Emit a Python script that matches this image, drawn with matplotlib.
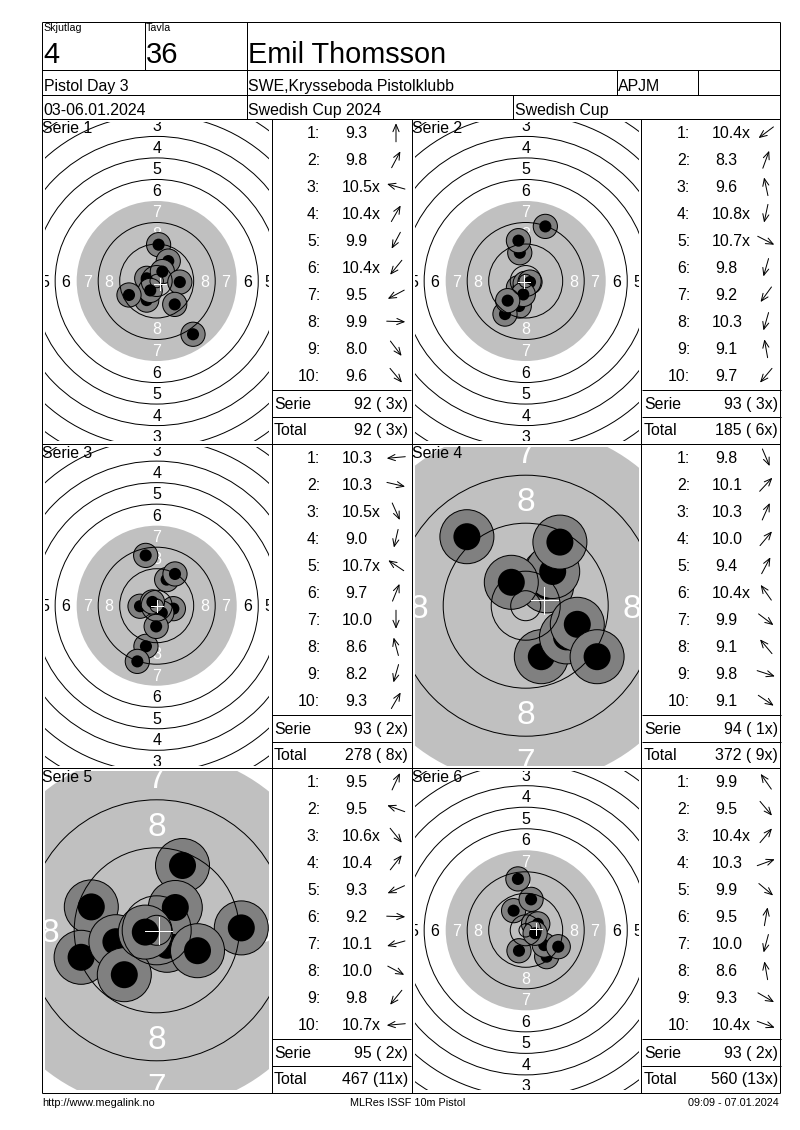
import matplotlib
matplotlib.use("Agg")
import math
import matplotlib.pyplot as plt
from matplotlib.patches import Circle

plt.rcParams["font.family"] = ["Liberation Sans", "DejaVu Sans"]

W, H = 800, 1130

# scores as printed on the sheet
scores = [
    ["9.3", "9.8", "10.5x", "10.4x", "9.9", "10.4x", "9.5", "9.9", "8.0", "9.6"],
    ["10.4x", "8.3", "9.6", "10.8x", "10.7x", "9.8", "9.2", "10.3", "9.1", "9.7"],
    ["10.3", "10.3", "10.5x", "9.0", "10.7x", "9.7", "10.0", "8.6", "8.2", "9.3"],
    ["9.8", "10.1", "10.3", "10.0", "9.4", "10.4x", "9.9", "9.1", "9.8", "9.1"],
    ["9.5", "9.5", "10.6x", "10.4", "9.3", "9.2", "10.1", "10.0", "9.8", "10.7x"],
    ["9.9", "9.5", "10.4x", "10.3", "9.9", "9.5", "10.0", "8.6", "9.3", "10.4x"],
]
serie_sums = ["92 ( 3x)", "93 ( 3x)", "93 ( 2x)", "94 ( 1x)", "95 ( 2x)", "93 ( 2x)"]
total_sums = ["92 ( 3x)", "185 ( 6x)", "278 ( 8x)", "372 ( 9x)", "467 (11x)", "560 (13x)"]

# shot positions on the target in mm from the centre, in shot order
shots_x = [
    [0.7, 4.3, -3.7, 2.1, -3.7, -2.4, -10.3, 8.6, 13.5, 6.7],
    [-2.7, 7.3, -2.2, -0.2, 1.6, -2.4, -7.7, -0.9, -2.7, -6.7],
    [-6.2, 6.2, 1.9, -4.0, -1.6, 3.7, -0.2, -4.1, -7.2, 6.8],
    [2.6, 3.9, 3.5, 4.5, 5.7, -2.4, 6.8, -9.8, 8.6, 11.9],
    [4.3, -10.9, 1.7, 3.1, -12.6, 14.1, -6.8, 6.8, -5.4, -1.9],
    [-4.5, 7.8, 2.9, 4.5, 6.9, 2.0, -2.5, -2.9, 12.1, 3.5],
]
shots_y = [
    [13.5, 7.4, 1.0, 3.5, -7.1, -3.5, -5.2, -0.4, -19.8, -8.7],
    [-2.5, 20.3, 10.5, -0.9, -0.4, -9.3, -12.3, -5.0, 15.0, -7.3],
    [-0.2, -1.1, -2.7, -15.1, 1.4, 9.7, -7.7, 18.7, -20.7, 11.8],
    [-8.5, 5.1, 3.3, 5.7, 10.6, 3.9, -5.2, 11.5, -3.1, -8.5],
    [10.8, 3.9, -2.5, 3.8, -4.5, 0.4, -1.9, -3.4, -7.4, -0.3],
    [7.3, -9.8, 2.4, 2.4, -5.5, 11.5, -7.6, 19.1, -6.1, -1.1],
]
# direction arrows next to the scores, degrees ccw from east
arrow_deg = [
    [90, 62, 164, 60, 242, 231, 208, 358, 307, 310],
    [217, 70, 102, 258, 333, 254, 234, 254, 100, 230],
    [185, 347, 294, 257, 146, 68, 270, 105, 254, 60],
    [293, 47, 66, 50, 62, 125, 323, 130, 342, 326],
    [65, 160, 309, 52, 204, 358, 196, 332, 231, 185],
    [125, 310, 50, 20, 320, 80, 255, 100, 330, 340],
]
# white cross, mean point of the series
mean_x = [1.2, -0.6, 0.2, 3.1, 0.3, 3.7]
mean_y = [-1.2, -0.2, 0.0, 0.9, -0.1, 0.5]

ring_radius = [77.75, 69.75, 61.75, 53.75, 45.75, 37.75, 29.75, 21.75, 13.75, 5.75, 2.5]
ring_label_radius = [57.75, 49.75, 41.75, 33.75, 25.75, 17.75]
ring_labels = ["3", "4", "5", "6", "7", "8"]
label_color = ["black", "black", "black", "black", "white", "white"]

px_per_mm = [2.69, 2.69, 2.69, 6.0, 6.0, 2.69]
label_size = [11.5, 11.5, 11.5, 24.0, 24.0, 11.5]

col_x = [42, 412]
row_y = [119, 444, 768]
col_w = 230
stat_w = 139
center_x = [156.7, 525.7]
center_y = [281, 605.7, 930.3]

LW = 0.72

fig = plt.figure(figsize=(W / 100, H / 100), dpi=100, facecolor="white")


def pt_to_px(size):
    return size * 100 / 72


def draw_target(idx, col, row):
    s = px_per_mm[idx]
    cx, cy = center_x[col], center_y[row]
    x0, x1 = col_x[col] + 3, col_x[col] + 227
    y0, y1 = row_y[row] + 3, row_y[row] + 322
    ax = fig.add_axes([x0 / W, 1 - y1 / H, (x1 - x0) / W, (y1 - y0) / H])
    ax.set_xlim((x0 - cx) / s, (x1 - cx) / s)
    ax.set_ylim((cy - y1) / s, (cy - y0) / s)
    ax.set_axis_off()

    ax.add_patch(Circle((0, 0), 29.75, fc="#C0C0C0", ec="none", zorder=1))

    # numbers on the four axes of the target, only those that reach into the view
    size_mm = pt_to_px(label_size[idx]) / s
    shift = 0.358 * size_mm
    for lab, r, c in zip(ring_labels, ring_label_radius, label_color):
        for dx, dy in [(0, r), (0, -r), (r, 0), (-r, 0)]:
            if abs(dx) > 111.5 / s + 0.3 * size_mm:
                continue
            if abs(dy) > 159 / s + 0.4 * size_mm:
                continue
            ax.text(dx, dy - shift, lab, color=c, fontsize=label_size[idx],
                    ha="center", va="baseline", zorder=2, clip_on=True)

    for x, y in zip(shots_x[idx], shots_y[idx]):
        ax.add_patch(Circle((x, y), 4.5, fc="#808080", ec="black", lw=LW, zorder=3))
        ax.add_patch(Circle((x, y), 2.25, fc="black", ec="none", zorder=3))

    for r in ring_radius:
        if r == 29.75:
            continue
        ax.add_patch(Circle((0, 0), r, fill=False, ec="black", lw=LW, zorder=4))

    mx, my = mean_x[idx], mean_y[idx]
    ax.plot([mx - 2.25, mx + 2.25], [my, my], color="white", lw=LW, zorder=5)
    ax.plot([mx, mx], [my - 2.25, my + 2.25], color="white", lw=LW, zorder=5)


for i in range(6):
    draw_target(i, i % 2, i // 2)

# overlay in pixel coordinates for the form, its texts and the arrows
frame = fig.add_axes([0, 0, 1, 1], zorder=10)
frame.set_xlim(0, W)
frame.set_ylim(H, 0)
frame.set_axis_off()
frame.patch.set_alpha(0)


def put(x, y, s, size=11.4, ha="left"):
    frame.text(x, y + 0.358 * pt_to_px(size), s, fontsize=size, ha=ha, va="baseline", color="black")


def hline(y, x0=42, x1=780):
    frame.plot([x0, x1], [y, y], color="black", lw=LW, solid_capstyle="butt")


def vline(x, y0, y1):
    frame.plot([x, x], [y0, y1], color="black", lw=LW, solid_capstyle="butt")


# form lines
for y in [21.5, 70, 95, 119, 444, 768, 1092.5]:
    hline(y)
vline(42, 21.5, 1092.5)
vline(780, 21.5, 1092.5)
vline(144.5, 21.5, 70)
vline(246.5, 21.5, 119)
vline(617, 70, 95)
vline(698, 70, 95)
vline(513, 95, 119)
for x in [272, 412, 641]:
    vline(x, 119, 1092.5)

put(43.5, 27, "Skjutlag", size=7.7)
put(145.5, 27, "Tavla", size=7.7)
put(43, 53, "4", size=21)
put(146, 53, "36", size=21)
put(248, 53, "Emil Thomsson", size=20.8)
put(44, 85, "Pistol Day 3")
put(248, 85, "SWE,Krysseboda Pistolklubb")
put(618, 85, "APJM")
put(43.5, 109, "03-06.01.2024")
put(248, 109, "Swedish Cup 2024")
put(515, 109, "Swedish Cup")

# score column of each series
for i in range(6):
    col, row = i % 2, i // 2
    x_off = col_x[col] - 42
    y_off = row_y[row] - 119
    put(col_x[col] + 0.5, y_off + 127.5, "Serie %d" % (i + 1), size=11.4)
    for k in range(10):
        y = y_off + 132.5 + 27 * k
        put(x_off + 320, y, "%d:" % (k + 1), ha="right")
        val = scores[i][k]
        put(x_off + (342 if len(val) > 3 else 345), y, val)
        a = math.radians(arrow_deg[i][k])
        dx, dy = 9.3 * math.cos(a), -9.3 * math.sin(a)
        frame.annotate("", xy=(x_off + 396 + dx, y + dy), xytext=(x_off + 396 - dx, y - dy),
                       arrowprops=dict(arrowstyle="->,head_length=0.4,head_width=0.17",
                                       color="black", lw=LW, shrinkA=0, shrinkB=0, mutation_scale=13))
    tx0 = col_x[col] + col_w
    hline(y_off + 390, tx0, tx0 + stat_w)
    hline(y_off + 417, tx0, tx0 + stat_w)
    put(tx0 + 2, y_off + 403, "Serie")
    put(tx0 + 2, y_off + 429.5, "Total")
    put(tx0 + 136, y_off + 403, serie_sums[i], ha="right")
    put(tx0 + 136, y_off + 429.5, total_sums[i], ha="right")

put(42, 1102, "http://www.megalink.no", size=7.8)
put(408, 1102, "MLRes ISSF 10m Pistol", size=7.8, ha="center")
put(779, 1102, "09:09 - 07.01.2024", size=7.8, ha="right")

fig.savefig("out.png", dpi=100, facecolor="white")
